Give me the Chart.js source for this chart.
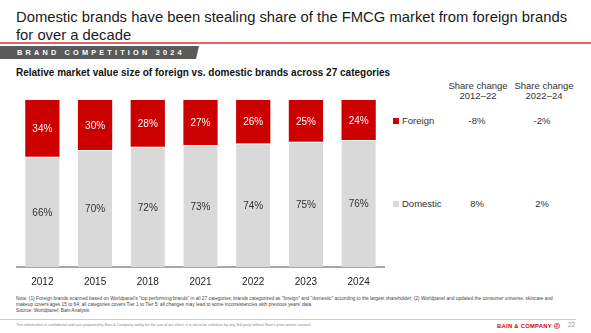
<!DOCTYPE html>
<html>
<head>
<meta charset="utf-8">
<script src="https://cdn.jsdelivr.net/npm/chart.js@4"></script>
<style>
  html, body { margin: 0; padding: 0; background: #fff; }
  body { width: 591px; height: 333px; position: relative; overflow: hidden; font-family: Arial, "Liberation Sans", sans-serif; color: #222; }
  .abs { position: absolute; white-space: nowrap; }
  #title { left: 16px; top: 8px; font-size: 14.8px; line-height: 18px; color: #1a1a1a; }
  #redline { left: 0; top: 42px; width: 591px; height: 1.5px; background: #e06666; }
  #banner { left: 0; top: 46px; width: 199px; height: 13px; background: #5a5a5a; clip-path: polygon(0 0, 100% 0, 98.5% 100%, 0 100%); }
  #bannerText { left: 17px; top: 48px; font-size: 7.3px; line-height: 9px; font-weight: bold; color: #fff; letter-spacing: 3.2px; }
  #subtitle { left: 16px; top: 67px; font-size: 10px; font-weight: bold; color: #111; }
  #chartBox { left: 16px; top: 100px; width: 369px; height: 185px; }
  .hdr { font-size: 9.5px; line-height: 10px; color: #333; text-align: center; width: 80px; }
  .cell { font-size: 9.5px; color: #333; text-align: center; width: 60px; }
  .legTxt { font-size: 9.5px; color: #333; }
  .sq { width: 6px; height: 6px; }
  .note { left: 16px; font-size: 4.8px; color: #444; }
  #sep { left: 0; top: 319px; width: 576px; height: 1px; background: #ccc; }
  #conf { left: 16px; top: 323px; font-size: 3.8px; color: #888; }
  #bain { left: 497px; top: 322px; font-size: 5.8px; font-weight: bold; color: #cc0000; letter-spacing: 0.3px; }
  #page { left: 568px; top: 321px; font-size: 6.5px; color: #999; }
</style>
</head>
<body>
<div id="title" class="abs">Domestic brands have been stealing share of the FMCG market from foreign brands<br>for over a decade</div>
<div id="redline" class="abs"></div>
<div id="banner" class="abs"></div>
<div id="bannerText" class="abs">BRAND COMPETITION 2024</div>
<div id="subtitle" class="abs">Relative market value size of foreign vs. domestic brands across 27 categories</div>

<div id="chartBox" class="abs"><canvas id="chart"></canvas></div>

<div class="abs hdr" style="left:438px; top:81px;">Share change<br>2012–22</div>
<div class="abs hdr" style="left:504px; top:81px;">Share change<br>2022–24</div>

<div class="abs sq" style="left:393px; top:118px; background:#cc0000;"></div>
<div class="abs legTxt" style="left:402px; top:115px;">Foreign</div>
<div class="abs cell" id="fc1" style="left:447px; top:115px;"></div>
<div class="abs cell" id="fc2" style="left:512px; top:115px;"></div>

<div class="abs sq" style="left:393px; top:201px; background:#d9d9d9;"></div>
<div class="abs legTxt" style="left:402px; top:198px;">Domestic</div>
<div class="abs cell" id="dc1" style="left:447px; top:198px;"></div>
<div class="abs cell" id="dc2" style="left:512px; top:198px;"></div>

<div class="abs note" style="top:296px;">Note: (1) Foreign brands scanned based on Worldpanel's "top performing brands" in all 27 categories; brands categorized as "foreign" and "domestic" according to the largest shareholder; (2) Worldpanel and updated the consumer universe: skincare and</div>
<div class="abs note" style="top:302px;">makeup covers ages 15 to 64; all categories covers Tier 1 to Tier 5; all changes may lead to some inconsistencies with previous years' data</div>
<div class="abs note" style="top:308px;">Source: Worldpanel; Bain Analysis</div>
<div id="sep" class="abs"></div>
<div id="conf" class="abs">This information is confidential and was prepared by Bain &amp; Company solely for the use of our client; it is not to be relied on by any 3rd party without Bain's prior written consent</div>
<div id="bain" class="abs">BAIN &amp; COMPANY ⓒ</div>
<div id="page" class="abs">22</div>

<script>
  const years = ["2012", "2015", "2018", "2021", "2022", "2023", "2024"];
  const domestic = [66, 70, 72, 73, 74, 75, 76];
  const foreign = [34, 30, 28, 27, 26, 25, 24];
  const foreignChange = ["-8%", "-2%"];
  const domesticChange = ["8%", "2%"];

  document.getElementById("fc1").textContent = foreignChange[0];
  document.getElementById("fc2").textContent = foreignChange[1];
  document.getElementById("dc1").textContent = domesticChange[0];
  document.getElementById("dc2").textContent = domesticChange[1];

  // labels in the middle of each segment
  const segLabels = {
    id: "segLabels",
    afterDatasetsDraw(chart) {
      const ctx = chart.ctx;
      ctx.save();
      ctx.font = "10px Arial, 'Liberation Sans', sans-serif";
      ctx.textAlign = "center";
      ctx.textBaseline = "middle";
      chart.data.datasets.forEach((ds, i) => {
        const meta = chart.getDatasetMeta(i);
        ctx.fillStyle = ds.labelColor;
        meta.data.forEach((bar, j) => {
          const mid = (bar.y + bar.base) / 2;
          ctx.fillText(ds.data[j] + "%", bar.x, mid + 1);
        });
      });
      ctx.restore();
    }
  };

  new Chart(document.getElementById("chart"), {
    type: "bar",
    data: {
      labels: years,
      datasets: [
        { label: "Domestic", data: domestic, backgroundColor: "#d9d9d9", labelColor: "#333", borderColor: "#fff", borderWidth: { top: 1 }, borderSkipped: false },
        { label: "Foreign", data: foreign, backgroundColor: "#cc0000", labelColor: "#fff", borderWidth: 0 }
      ]
    },
    options: {
      responsive: true,
      maintainAspectRatio: false,
      animation: false,
      layout: { padding: 0 },
      plugins: { legend: { display: false }, tooltip: { enabled: false } },
      datasets: { bar: { categoryPercentage: 1, barPercentage: 0.65 } },
      scales: {
        x: {
          stacked: true,
          grid: { display: false },
          border: { display: true, color: "#a6a6a6", width: 2 },
          ticks: { color: "#222", font: { size: 10, family: "Arial, 'Liberation Sans', sans-serif" }, padding: 1 },
          afterFit(scale) { scale.height = 18; }
        },
        y: { stacked: true, display: false, min: 0, max: 100 }
      }
    },
    plugins: [segLabels]
  });
</script>
</body>
</html>
